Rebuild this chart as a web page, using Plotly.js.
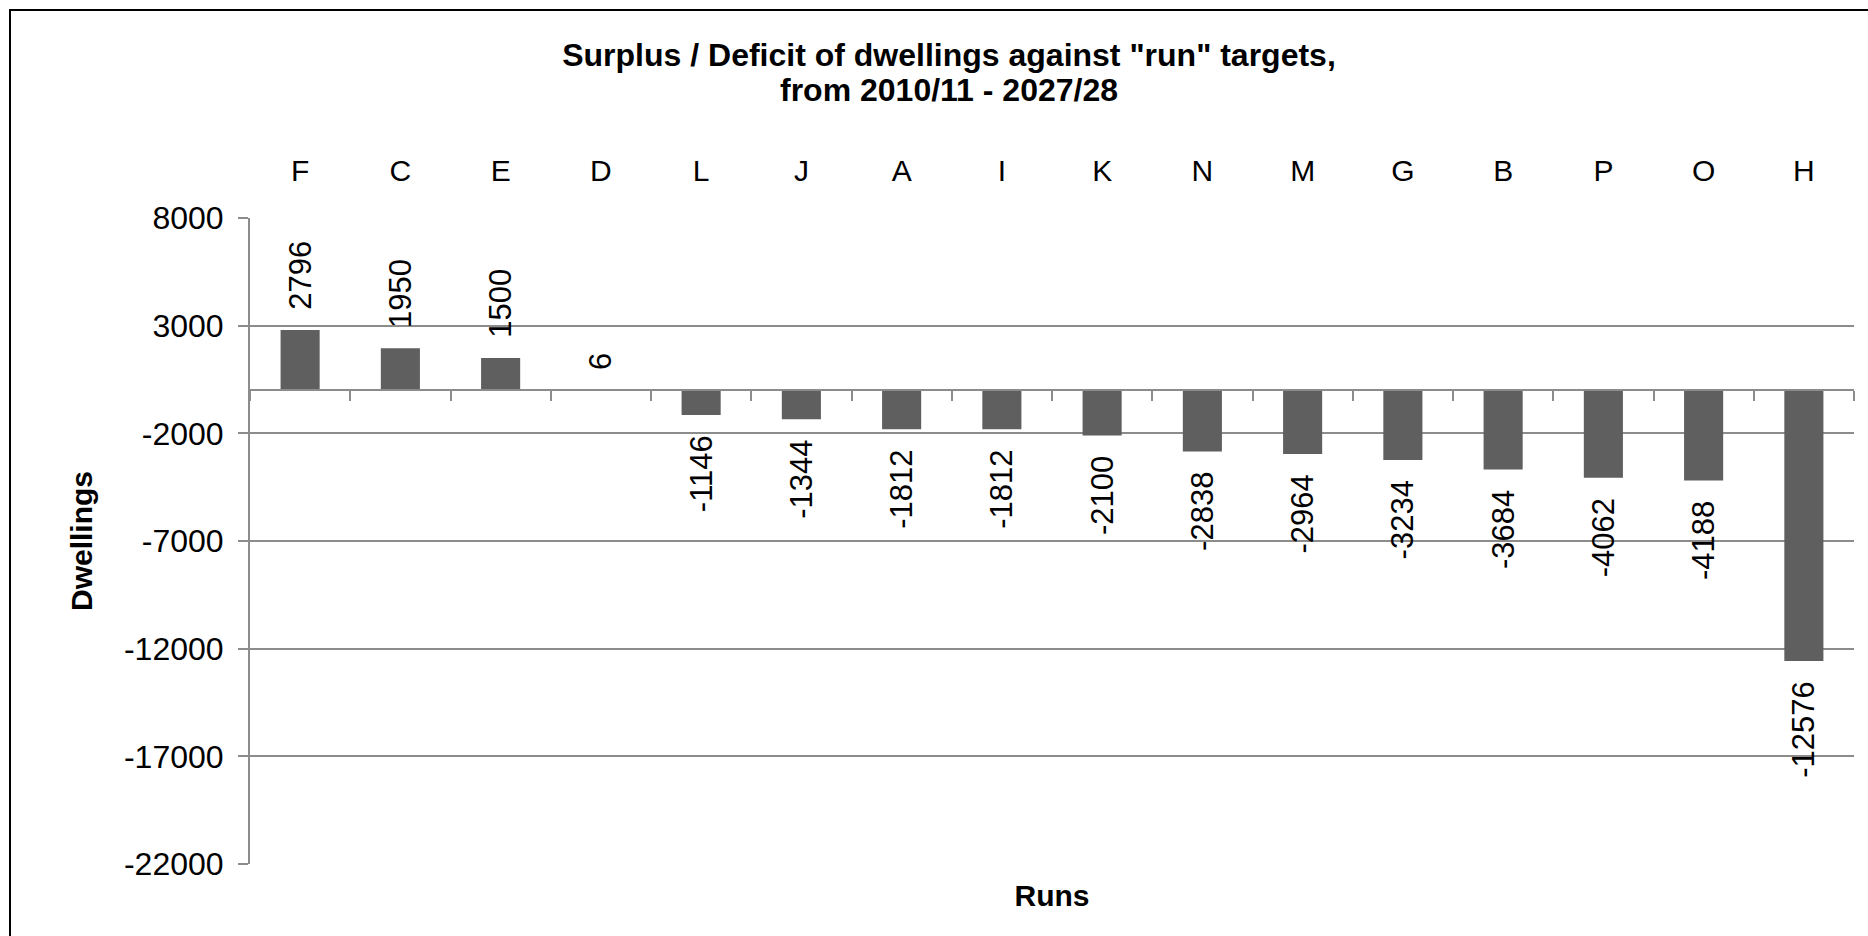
<!DOCTYPE html>
<html>
<head>
<meta charset="utf-8">
<script src="https://cdn.plot.ly/plotly-3.0.1.min.js"></script>
<style>
  html, body { margin: 0; padding: 0; background: #fff; overflow: hidden; }
  #chart { width: 1868px; height: 936px; }
  #frame { position: absolute; left: 9px; top: 9px; width: 2000px; height: 1000px;
           border: 2px solid #000; pointer-events: none; }
</style>
</head>
<body>
<div id="chart"></div>
<div id="frame"></div>
<script>
// ---- data ----
const runs = ["F", "C", "E", "D", "L", "J", "A", "I", "K", "N", "M", "G", "B", "P", "O", "H"];
const surplus = [2796, 1950, 1500, 6, -1146, -1344, -1812, -1812, -2100, -2838, -2964, -3234, -3684, -4062, -4188, -12576];
const yTickVals = [8000, 3000, -2000, -7000, -12000, -17000, -22000];
const yTickText = ["8000", "3000", "-2000", "-7000", "-12000", "-17000", "-22000"];
const titleLine1 = "Surplus / Deficit of dwellings against \"run\" targets,";
const titleLine2 = "from 2010/11 - 2027/28";

const FONT = "'Liberation Sans', Arial, sans-serif";
const GRID = "#8c8c8c";
const yMin = -22000, yMax = 8000;
const zeroPos = (0 - yMin) / (yMax - yMin);
const pad = "\u00A0\u00A0";
const labels = surplus.map(v => v >= 0 ? pad + String(v) : String(v) + pad);
const xRange = [-0.5, runs.length - 0.5];

const traces = [
  {
    type: "bar", x: runs, y: surplus, xaxis: "x", yaxis: "y",
    marker: { color: "#5f5f5f", line: { width: 0 } },
    text: labels, textposition: "outside", textangle: -90,
    constraintext: "none", cliponaxis: false,
    textfont: { family: FONT, size: 31, color: "#000" },
    hoverinfo: "x+y", showlegend: false
  },
  {
    type: "scatter", mode: "markers", x: runs, y: surplus, xaxis: "x2", yaxis: "y",
    marker: { opacity: 0 }, hoverinfo: "skip", showlegend: false
  },
  {
    type: "scatter", mode: "markers", x: runs, y: surplus, xaxis: "x3", yaxis: "y",
    marker: { opacity: 0 }, hoverinfo: "skip", showlegend: false
  }
];

const layout = {
  width: 1868, height: 936,
  margin: { l: 250, r: 14, t: 218, b: 72 },
  paper_bgcolor: "#fff", plot_bgcolor: "#fff",
  bargap: 0.61,
  font: { family: FONT, color: "#000" },
  title: {
    text: "<b>" + titleLine1 + "</b>",
    font: { family: FONT, size: 32, color: "#000" },
    x: 949 / 1868, xanchor: "center", xref: "container",
    y: 1 - 55 / 936, yanchor: "middle", yref: "container"
  },
  annotations: [{
    text: "<b>" + titleLine2 + "</b>",
    font: { family: FONT, size: 32, color: "#000" },
    xref: "paper", yref: "paper",
    x: (949 - 250) / 1604, y: 1 + (218 - 90) / 646,
    xanchor: "center", yanchor: "middle", showarrow: false
  }],
  xaxis: {
    type: "category", categoryorder: "array", categoryarray: runs, range: xRange,
    side: "bottom", showticklabels: false, showgrid: false, showline: false, zeroline: false, ticks: "",
    title: { text: "<b>Runs</b>", font: { family: FONT, size: 30, color: "#000" }, standoff: 20 }
  },
  xaxis2: {
    type: "category", categoryorder: "array", categoryarray: runs, range: xRange,
    overlaying: "x", anchor: "y", side: "top",
    showgrid: false, showline: false, zeroline: false, ticks: "",
    ticklabelstandoff: 30,
    tickfont: { family: FONT, size: 30, color: "#000" }
  },
  xaxis3: {
    type: "category", categoryorder: "array", categoryarray: runs, range: xRange,
    overlaying: "x", anchor: "free", position: zeroPos, side: "bottom",
    showticklabels: false, showgrid: false, zeroline: false,
    showline: true, linecolor: GRID, linewidth: 2,
    ticks: "outside", tickson: "boundaries", ticklen: 10, tickcolor: GRID, tickwidth: 2
  },
  yaxis: {
    range: [yMin, yMax], tickmode: "array", tickvals: yTickVals, ticktext: yTickText,
    showgrid: true, gridcolor: GRID, gridwidth: 2, zeroline: false,
    showline: true, linecolor: GRID, linewidth: 2,
    ticks: "outside", ticklen: 10, tickcolor: GRID, tickwidth: 2,
    ticklabelstandoff: 8,
    tickfont: { family: FONT, size: 32, color: "#000" },
    title: { text: "<b>Dwellings</b>", font: { family: FONT, size: 30, color: "#000" }, standoff: 22 }
  }
};

Plotly.newPlot("chart", traces, layout, { displayModeBar: false, staticPlot: true });
</script>
</body>
</html>
